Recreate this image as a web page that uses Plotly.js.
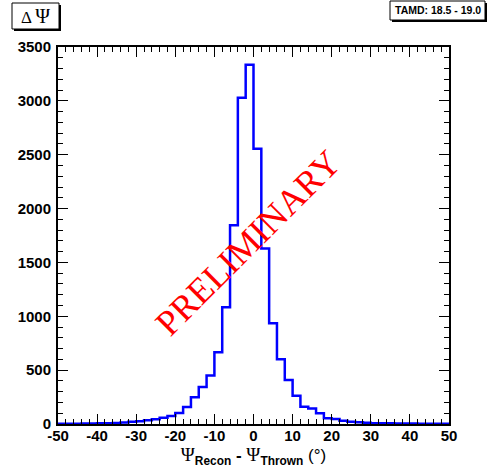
<!DOCTYPE html>
<html>
<head>
<meta charset="utf-8">
<script src="https://cdn.plot.ly/plotly-3.0.1.min.js"></script>
<style>html,body{margin:0;padding:0;background:#fff;}#chart{width:487px;height:470px;}</style>
</head>
<body>
<div id="chart"></div>
<script>
// Histogram of Psi_Recon - Psi_Thrown, 50 bins of width 2 from -50 to 50
const binLow = -50;
const binWidth = 2;
const counts = [
  2, 3, 3, 4, 5, 6, 8, 10, 13, 20,      // -50 .. -30
  25, 34, 44, 58, 75, 102, 158, 248, 343, 450, // -30 .. -10
  665, 1083, 1845, 3030, 3335,          // -10 .. 0
  2555, 1630, 935, 600, 408,            // 0 .. 10
  263, 161, 145, 99, 53, 46, 31, 22, 17, 11, // 10 .. 30
  8, 7, 6, 5, 4, 4, 3, 3, 2, 2          // 30 .. 50
];
const xTickVals = [-50, -40, -30, -20, -10, 0, 10, 20, 30, 40, 50];
const yTickVals = [0, 500, 1000, 1500, 2000, 2500, 3000, 3500];
const titleText = "Δ Ψ";
const infoText = "TAMD: 18.5 - 19.0";
const watermark = "PRELIMINARY";

const edges = [];
for (let i = 0; i <= counts.length; i++) edges.push(binLow + i * binWidth);
const stepY = counts.concat([counts[counts.length - 1]]);

const W = 487, H = 470;
const L = 58, R = 38, T = 47, B = 46;
const pw = W - L - R, ph = H - T - B;
const px = x => (x - L) / pw;
const py = y => (H - B - y) / ph;

const tickFont = {family: 'Liberation Sans, Arial, sans-serif', size: 15, color: '#000', weight: 'bold'};

const axisCommon = {
  showgrid: false, zeroline: false,
  showline: true, linecolor: '#000', linewidth: 2, mirror: 'allticks',
  ticks: 'inside', ticklen: 10, tickwidth: 1, tickcolor: '#000',
  tickfont: tickFont
};

const layout = {
  width: W, height: H,
  margin: {l: L, r: R, t: T, b: B, pad: 0},
  paper_bgcolor: '#fff', plot_bgcolor: '#fff',
  showlegend: false,
  xaxis: Object.assign({}, axisCommon, {
    range: [-50, 50], tickvals: xTickVals, ticktext: xTickVals.map(String),
    ticklabelstandoff: -3,
    minor: {dtick: 2, tick0: 0, ticks: 'inside', ticklen: 5, tickwidth: 1, tickcolor: '#000', showgrid: false},
    title: {
      text: "<span style='font-family:Liberation Serif;font-size:19px'>Ψ</span><sub><b>Recon</b></sub> <b>-</b> <span style='font-family:Liberation Serif;font-size:19px'>Ψ</span><sub><b>Thrown</b></sub> (°)",
      font: {family: 'Liberation Sans, Arial, sans-serif', size: 17, color: '#000'},
      standoff: 4
    }
  }),
  yaxis: Object.assign({}, axisCommon, {
    range: [0, 3500], tickvals: yTickVals, ticktext: yTickVals.map(String),
    ticklabelstandoff: 2,
    minor: {dtick: 100, tick0: 0, ticks: 'inside', ticklen: 5, tickwidth: 1, tickcolor: '#000', showgrid: false}
  }),
  shapes: [
    {type: 'rect', xref: 'paper', yref: 'paper', x0: px(14), x1: px(61), y0: py(31), y1: py(5), fillcolor: '#000', line: {width: 0}},
    {type: 'rect', xref: 'paper', yref: 'paper', x0: px(12), x1: px(59), y0: py(29), y1: py(3), fillcolor: '#fff', line: {color: '#000', width: 1}},
    {type: 'rect', xref: 'paper', yref: 'paper', x0: px(392), x1: px(487), y0: py(22), y1: py(3), fillcolor: '#000', line: {width: 0}},
    {type: 'rect', xref: 'paper', yref: 'paper', x0: px(390), x1: px(485), y0: py(20), y1: py(1), fillcolor: '#fff', line: {color: '#000', width: 1}}
  ],
  annotations: [
    {text: "Δ <span style='font-size:20px'>Ψ</span>", xref: 'paper', yref: 'paper', x: px(35.5), y: py(16), xanchor: 'center', yanchor: 'middle',
     showarrow: false, font: {family: 'Liberation Serif, Times New Roman, serif', size: 17, color: '#000'}},
    {text: '<b>' + infoText + '</b>', xref: 'paper', yref: 'paper', x: px(437.5), y: py(10.5), xanchor: 'center', yanchor: 'middle',
     showarrow: false, font: {family: 'Liberation Sans, Arial, sans-serif', size: 10.5, color: '#000'}},
    {text: watermark, xref: 'paper', yref: 'paper', x: px(248), y: py(243), xanchor: 'center', yanchor: 'middle',
     textangle: -45, showarrow: false, font: {family: 'Liberation Serif, Times New Roman, serif', size: 36, color: '#ff0000'}}
  ]
};

const trace = {
  type: 'scatter', mode: 'lines', x: edges, y: stepY,
  line: {shape: 'hv', color: '#0000ff', width: 2.5},
  hoverinfo: 'none', cliponaxis: true
};

Plotly.newPlot('chart', [trace], layout, {staticPlot: true, displayModeBar: false});
</script>
</body>
</html>
